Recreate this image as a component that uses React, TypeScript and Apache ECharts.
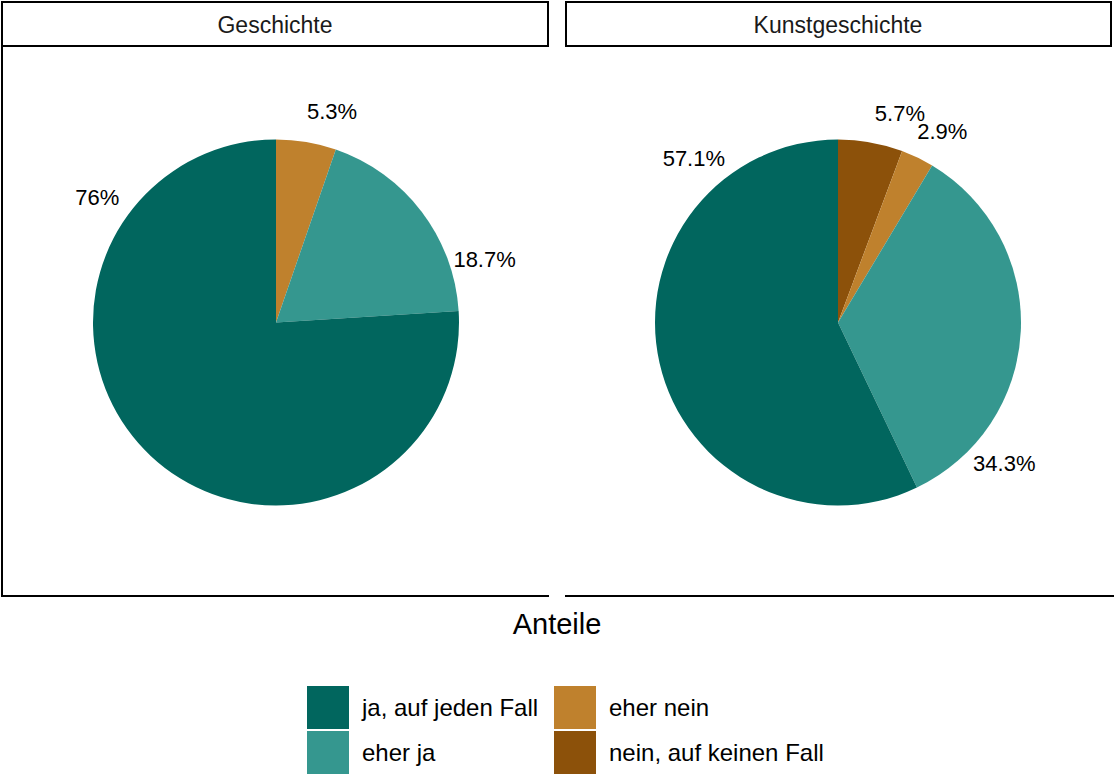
import { useEffect, useRef } from "react";
import * as echarts from "echarts";

// ---- data ----
const CATEGORIES = ["ja, auf jeden Fall", "eher ja", "eher nein", "nein, auf keinen Fall"];
const PANELS = ["Geschichte", "Kunstgeschichte"];
const GESCHICHTE = [76, 18.7, 5.3, null];
const KUNSTGESCHICHTE = [57.1, 34.3, 2.9, 5.7];
const AXIS_TITLE = "Anteile";

// ---- styles / layout ----
const COLORS = ["#01665E", "#35978F", "#BF812D", "#8C510A"];
const FONT = "'Liberation Sans', Arial, Helvetica, sans-serif";
const CY = 322.5;
const R = 183;
const LABEL_R = 218;
// label placement angles (degrees clockwise from 12 o'clock), as in the picture
const LABEL_ANGLES_G = [304.9, 73.1, 14.9, 0];
const LABEL_ANGLES_K = [318.6, 130.3, 28.6, 16.5];

function makeSeries(values: (number | null)[], angles: number[], cx: number) {
  const items = CATEGORIES.map((c, i) => ({
    name: c,
    value: values[i],
    color: COLORS[i],
    angle: angles[i],
  }))
    .filter((d) => d.value != null)
    .reverse();
  return {
    type: "pie",
    center: [cx, CY],
    radius: R,
    startAngle: 90,
    clockwise: true,
    avoidLabelOverlap: false,
    silent: true,
    emphasis: { disabled: true },
    itemStyle: { borderWidth: 0 },
    label: {
      show: true,
      position: "outside",
      formatter: (p: any) => `${p.value}%`,
      fontSize: 22,
      color: "#000",
      fontFamily: FONT,
    },
    labelLine: { show: false },
    labelLayout: (params: any) => {
      const a = (items[params.dataIndex].angle * Math.PI) / 180;
      return {
        x: cx + LABEL_R * Math.sin(a),
        y: CY - LABEL_R * Math.cos(a),
        align: "center",
        verticalAlign: "middle",
      };
    },
    data: items.map((d) => ({ name: d.name, value: d.value, itemStyle: { color: d.color } })),
  };
}

export default function App() {
  const ref = useRef<HTMLDivElement>(null);
  useEffect(() => {
    const chart = echarts.init(ref.current!, null, { renderer: "svg" });
    const legendBase = {
      orient: "vertical",
      top: 686,
      padding: 0,
      itemWidth: 42,
      itemHeight: 43,
      itemGap: 2,
      icon: "rect",
      selectedMode: false,
      textStyle: { fontSize: 24, color: "#000", fontFamily: FONT, padding: [0, 0, 0, 8] },
    };
    const lineStyle = { stroke: "#000", lineWidth: 2 };
    chart.setOption({
      animation: false,
      backgroundColor: "#fff",
      legend: [
        { ...legendBase, left: 307, data: [CATEGORIES[0], CATEGORIES[1]] },
        { ...legendBase, left: 554, data: [CATEGORIES[2], CATEGORIES[3]] },
      ],
      series: [makeSeries(GESCHICHTE, LABEL_ANGLES_G, 276), makeSeries(KUNSTGESCHICHTE, LABEL_ANGLES_K, 838)],
      graphic: [
        { type: "rect", shape: { x: 2, y: 2, width: 546, height: 44 }, style: { fill: "#fff", ...lineStyle } },
        { type: "rect", shape: { x: 566, y: 2, width: 545, height: 44 }, style: { fill: "#fff", ...lineStyle } },
        {
          type: "text",
          x: 275,
          y: 25,
          style: { text: PANELS[0], fontSize: 23, fill: "#1a1a1a", fontFamily: FONT, align: "center", verticalAlign: "middle" },
        },
        {
          type: "text",
          x: 838,
          y: 25,
          style: { text: PANELS[1], fontSize: 23, fill: "#1a1a1a", fontFamily: FONT, align: "center", verticalAlign: "middle" },
        },
        { type: "line", shape: { x1: 2, y1: 46, x2: 2, y2: 597 }, style: lineStyle },
        { type: "line", shape: { x1: 1, y1: 596, x2: 549, y2: 596 }, style: lineStyle },
        { type: "line", shape: { x1: 565, y1: 596, x2: 1114, y2: 596 }, style: lineStyle },
        {
          type: "text",
          x: 557,
          y: 624,
          style: { text: AXIS_TITLE, fontSize: 29, fill: "#000", fontFamily: FONT, align: "center", verticalAlign: "middle" },
        },
      ],
    });
    return () => chart.dispose();
  }, []);
  return (
    <div
      ref={ref}
      style={{ position: "fixed", left: 0, top: 0, width: 1114, height: 774, background: "#fff" }}
    />
  );
}
